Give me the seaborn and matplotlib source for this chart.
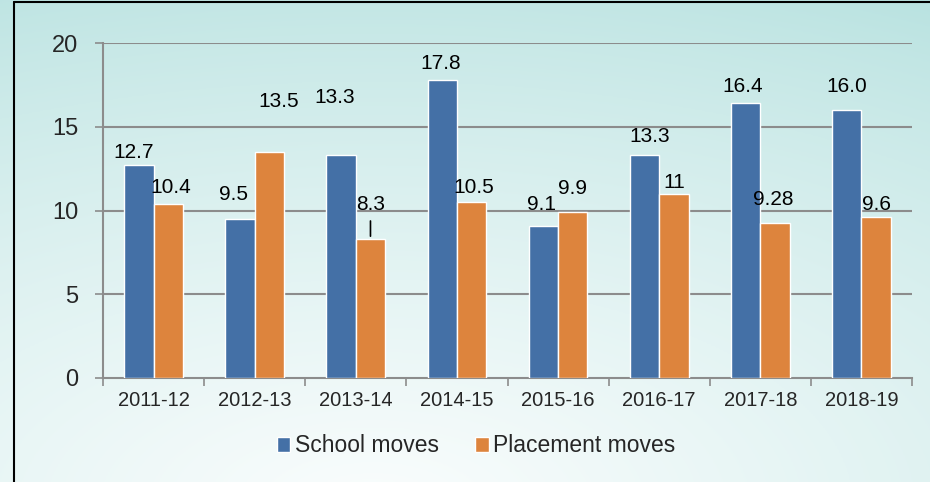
import numpy as np
import pandas as pd
import matplotlib.pyplot as plt
import seaborn as sns
from matplotlib.lines import Line2D
from matplotlib.patches import Patch

# data
years = ['2011-12', '2012-13', '2013-14', '2014-15', '2015-16', '2016-17', '2017-18', '2018-19']
school = [12.7, 9.5, 13.3, 17.8, 9.1, 13.3, 16.4, 16.0]
placement = [10.4, 13.5, 8.3, 10.5, 9.9, 11.0, 9.28, 9.6]
school_labels = ['12.7', '9.5', '13.3', '17.8', '9.1', '13.3', '16.4', '16.0']
placement_labels = ['10.4', '13.5', '8.3', '10.5', '9.9', '11', '9.28', '9.6']
series_names = ['School moves', 'Placement moves']

# label offsets in pixels (dx, dy above bar top)
school_off = [(-5, 13), (-7, 24), (-6, 58), (-1.5, 16), (-2, 21), (5, 19), (-2.5, 17), (0, 24)]
place_off = [(2.5, 16), (9.5, 50), (0, 34), (2.5, 15), (0, 24), (0, 11), (-1.5, 23), (0, 13)]

blue = '#4470a6'
orange = '#dd843d'
grid_c = '#8c8c8c'

df = pd.DataFrame({
    'year': years * 2,
    'series': [series_names[0]] * len(years) + [series_names[1]] * len(years),
    'value': school + placement,
})

sns.set_style('white')
plt.rcParams['font.family'] = ['Liberation Sans', 'DejaVu Sans']

fig = plt.figure(figsize=(9.3, 4.82), dpi=100)

# background gradient
bg = fig.add_axes([0, 0, 1, 1], zorder=-10)
h, w = 241, 465
yy, xx = np.mgrid[0:1:h * 1j, 0:1:w * 1j]
d = np.sqrt(((xx - 0.4) * 1.0) ** 2 + ((1.05 - yy) * 1.1) ** 2)
wt = np.clip(1 - d / 1.3, 0, 1) ** 0.8
teal = np.array([184, 226, 224]) / 255
white = np.array([250, 253, 253]) / 255
img = teal[None, None, :] * (1 - wt[..., None]) + white[None, None, :] * wt[..., None]
bg.imshow(img, aspect='auto', extent=[0, 1, 0, 1], origin='upper')
bg.set_axis_off()

# border
fig.add_artist(Line2D([14 / 930, 14 / 930], [0, 1 - 2 / 482], transform=fig.transFigure, color='black', lw=1.5))
fig.add_artist(Line2D([14 / 930, 1], [1 - 2 / 482, 1 - 2 / 482], transform=fig.transFigure, color='black', lw=1.5))

ax = fig.add_axes([103 / 930, 104 / 482, 809 / 930, 335 / 482])
ax.set_facecolor('none')

sns.barplot(data=df, x='year', y='value', hue='series', palette=[blue, orange],
            width=0.58, saturation=1, ax=ax, legend=False, zorder=3)

ax.set_ylim(0, 20)
ax.set_xlim(-0.5, len(years) - 0.5)
ax.set_yticks([0, 5, 10, 15, 20])
ax.set_xlabel('')
ax.set_ylabel('')
for v in [5, 10, 15, 20]:
    ax.axhline(v, color=grid_c, lw=1.5, zorder=1)

for s in ['top', 'right']:
    ax.spines[s].set_visible(False)
for s in ['left', 'bottom']:
    ax.spines[s].set_color(grid_c)
    ax.spines[s].set_linewidth(1.5)

ax.tick_params(axis='y', length=6, width=1.2, color=grid_c, labelsize=17, pad=12, direction='out', left=True)
ax.tick_params(axis='x', which='major', length=0, labelsize=14.5, pad=9)
ax.set_xticks(np.arange(-0.5, len(years)), minor=True)
ax.tick_params(axis='x', which='minor', length=6, width=1.2, color=grid_c, direction='out', bottom=True)

# value labels
for cont, labels, offs in [(ax.containers[0], school_labels, school_off),
                           (ax.containers[1], placement_labels, place_off)]:
    for bar, lab, (dx, dy) in zip(cont, labels, offs):
        xc = bar.get_x() + bar.get_width() / 2
        ax.annotate(lab, (xc, bar.get_height()), xytext=(dx, dy), textcoords='offset pixels',
                    ha='center', va='center', fontsize=15, color='black', zorder=5)

# leader line for 8.3
bar = ax.containers[1][2]
xc = bar.get_x() + bar.get_width() / 2
ax.annotate('', (xc, bar.get_height()), xytext=(0, 18), textcoords='offset pixels',
            arrowprops=dict(arrowstyle='-', color='black', lw=1.2, shrinkA=0, shrinkB=2))

handles = [Patch(facecolor=blue), Patch(facecolor=orange)]
fig.legend(handles, series_names, loc='center', bbox_to_anchor=(476 / 930, 1 - 446 / 482),
           ncol=2, frameon=False, fontsize=16.5, handlelength=0.58, handleheight=0.6,
           handletextpad=0.2, columnspacing=1.6)

plt.savefig('out.png', dpi=100)
